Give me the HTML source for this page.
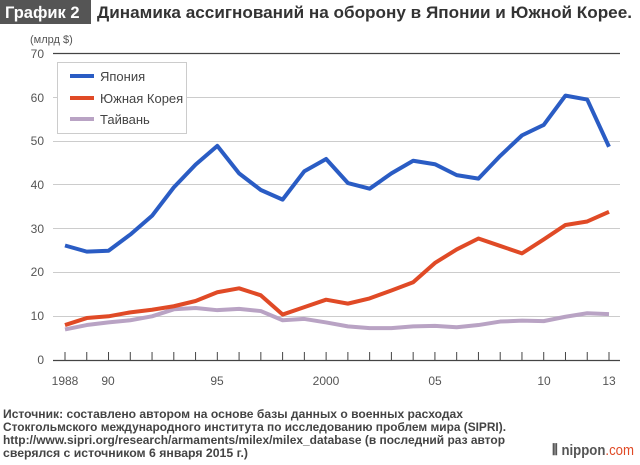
<!DOCTYPE html>
<html><head><meta charset="utf-8"><style>
body{margin:0;width:640px;height:460px;background:#fff;overflow:hidden;font-family:"Liberation Sans",sans-serif}
</style></head><body>
<svg id="s" width="640" height="460" xmlns="http://www.w3.org/2000/svg" font-family="Liberation Sans, sans-serif">
<rect x="0" y="0" width="91" height="24" fill="#555"/>
<text x="5" y="18" font-size="16.5" font-weight="bold" fill="#fff">График 2</text>
<text x="97" y="18" font-size="17" font-weight="bold" fill="#333" textLength="535" lengthAdjust="spacingAndGlyphs">Динамика ассигнований на оборону в Японии и Южной Корее.</text>
<text x="30" y="43" font-size="11" fill="#555">(млрд $)</text>
<g font-size="12" fill="#555" text-anchor="end">
<text x="44" y="58">70</text><text x="44" y="102">60</text><text x="44" y="145">50</text><text x="44" y="189">40</text><text x="44" y="233">30</text><text x="44" y="276">20</text><text x="44" y="320">10</text><text x="44" y="364">0</text>
</g>
<g stroke="#ccc" stroke-width="1">
<line x1="53" x2="620" y1="97.5" y2="97.5"/><line x1="53" x2="620" y1="141.5" y2="141.5"/><line x1="53" x2="620" y1="184.5" y2="184.5"/><line x1="53" x2="620" y1="228.5" y2="228.5"/><line x1="53" x2="620" y1="272.5" y2="272.5"/><line x1="53" x2="620" y1="316.5" y2="316.5"/>
</g>
<line x1="53" x2="620" y1="53.5" y2="53.5" stroke="#444" stroke-width="1.2"/>
<line x1="53" x2="620" y1="360.5" y2="360.5" stroke="#444" stroke-width="1.2"/>
<g id="ticks" stroke="#444" stroke-width="1"></g>
<g font-size="12" fill="#555" text-anchor="middle">
<text x="65" y="385">1988</text><text x="108" y="385">90</text><text x="217" y="385">95</text><text x="326" y="385">2000</text><text x="435" y="385">05</text><text x="544" y="385">10</text><text x="609" y="385">13</text>
</g>
<g id="lines" fill="none" stroke-width="4" stroke-linejoin="round"></g>
<rect x="57.5" y="62.5" width="129" height="71" fill="#fff" stroke="#ccc"/>
<line x1="70" x2="94" y1="76" y2="76" stroke="#2a5cc4" stroke-width="4"/>
<line x1="70" x2="94" y1="98" y2="98" stroke="#e04a26" stroke-width="4"/>
<line x1="70" x2="94" y1="119" y2="119" stroke="#b9a3c4" stroke-width="4"/>
<g font-size="13" fill="#444"><text x="100" y="81">Япония</text><text x="100" y="103">Южная Корея</text><text x="100" y="124">Тайвань</text></g>
<g font-size="12" font-weight="bold" fill="#444">
<text x="3" y="418" textLength="460" lengthAdjust="spacingAndGlyphs">Источник: составлено автором на основе базы данных о военных расходах</text>
<text x="3" y="431" textLength="503" lengthAdjust="spacingAndGlyphs">Стокгольмского международного института по исследованию проблем мира (SIPRI).</text>
<text x="3" y="444" textLength="502" lengthAdjust="spacingAndGlyphs">http://www.sipri.org/research/armaments/milex/milex_database (в последний раз автор</text>
<text x="3" y="457" textLength="245" lengthAdjust="spacingAndGlyphs">сверялся с источником 6 января 2015 г.)</text>
</g>
<text x="552" y="455" font-size="15" font-weight="bold" fill="#555" textLength="82" lengthAdjust="spacingAndGlyphs">⦀ nippon<tspan fill="#e04a26" font-weight="normal">.com</tspan></text>
</svg>
<script>
var J=[26.2,24.8,25,28.7,33,39.5,44.7,49,42.7,38.9,36.7,43.2,46,40.5,39.2,42.7,45.6,44.8,42.3,41.5,46.7,51.4,53.8,60.5,59.6,48.8];
var K=[8,9.6,10,10.9,11.5,12.3,13.5,15.5,16.4,14.8,10.4,12.1,13.8,12.9,14.1,15.9,17.8,22.2,25.3,27.8,26.1,24.4,27.6,30.9,31.7,33.9];
var T=[7,8,8.6,9.1,10,11.6,11.9,11.4,11.7,11.2,9.1,9.4,8.6,7.7,7.3,7.3,7.7,7.8,7.5,8,8.8,9,8.9,9.9,10.7,10.5];
var NS="http://www.w3.org/2000/svg";
function X(i){return 65+21.76*i}function Y(v){return 360-4.37*v}
var tk=document.getElementById('ticks');
for(var i=0;i<26;i++){var l=document.createElementNS(NS,'line');l.setAttribute('x1',X(i));l.setAttribute('x2',X(i));l.setAttribute('y1',352);l.setAttribute('y2',360);tk.appendChild(l);}
var g=document.getElementById('lines');
[[T,'#b9a3c4'],[K,'#e04a26'],[J,'#2a5cc4']].forEach(function(s){var p=document.createElementNS(NS,'polyline');p.setAttribute('points',s[0].map(function(v,i){return X(i)+','+Y(v)}).join(' '));p.setAttribute('stroke',s[1]);g.appendChild(p);});
</script>
</body></html>
